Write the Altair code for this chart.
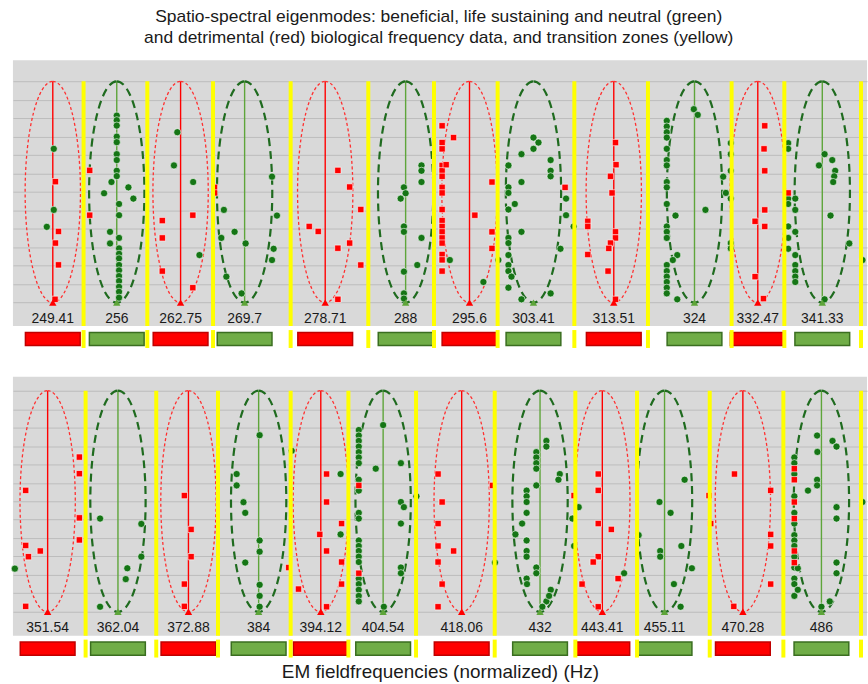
import altair as alt
import pandas as pd

FONT = "Liberation Sans"
LEVEL_MAX = 12

# ---------------- panel 1 ----------------
p1_modes = [249.41, 256, 262.75, 269.7, 278.71, 288, 295.6, 303.41, 313.51, 324, 332.47, 341.33]
p1_labels = ["249.41", "256", "262.75", "269.7", "278.71", "288", "295.6", "303.41", "313.51", "324", "332.47", "341.33"]
p1_kinds = ["red", "green"] * 6
p1_has_line = [True, True, True, True, True, True, True, False, True, True, True, True]
p1_zones = [252.56, 259.21, 266.25, 274.81, 283.65, 291.35, 299.01, 308.51, 317.91, 328.94, 336.09, 346.76]
p1_xdomain = [245.39, 347.61]
p1_ydomain = [-1.27, 13.14]

p1_green = [
    (249.51, 8.34), (249.51, 5.03), (248.80, 4.11),
    (256.00, 10.14), (256.00, 9.89), (256.00, 9.60), (256.00, 9.00), (256.00, 8.70), (256.00, 8.05), (256.00, 7.73), (256.00, 7.15), (256.00, 6.86),
    (256.24, 5.35), (256.24, 4.74), (256.24, 3.51), (256.24, 2.94), (256.24, 2.65), (256.24, 2.40), (256.24, 2.04), (256.24, 1.75), (256.24, 1.44),
    (256.24, 1.17), (256.24, 0.86), (256.24, 0.59), (256.24, 0.27),
    (255.45, 6.54), (254.68, 5.93), (257.22, 6.25), (257.74, 5.64), (255.30, 3.84), (255.30, 3.21),
    (262.40, 9.24), (262.04, 7.44), (264.10, 6.54), (264.78, 2.58),
    (267.43, 5.03), (268.60, 3.84), (267.15, 3.51), (269.81, 3.21), (267.70, 1.41), (269.37, 0.50), (272.73, 6.83), (273.28, 4.72),
    (272.91, 2.92), (272.73, 2.31),
    (289.87, 7.44), (289.87, 7.15), (289.87, 6.54), (289.87, 3.51), (287.80, 6.25), (287.80, 4.13), (287.80, 3.84), (287.80, 1.68),
    (287.80, 0.50), (287.80, 0.22), (288.00, 5.93), (287.42, 5.64), (289.37, 2.04),
    (297.28, 1.12), (293.24, 2.31),
    (303.41, 8.95), (303.41, 8.34), (304.03, 8.68), (301.93, 8.05), (301.93, 6.54), (301.93, 3.84), (301.93, 0.18),
    (300.33, 7.44), (300.33, 6.25), (300.33, 5.95), (300.33, 5.05), (300.33, 3.51), (300.33, 3.23), (300.33, 2.58), (300.33, 2.04),
    (300.33, 1.71), (300.33, 0.81), (300.70, 1.41),
    (305.54, 7.73), (305.54, 7.15), (305.54, 6.85), (305.54, 0.50), (301.11, 5.35), (306.77, 2.92), (307.47, 5.64), (307.47, 4.74),
    (308.42, 4.13), (299.10, 2.31),
    (323.91, 10.49), (324.43, 10.18),
    (320.36, 9.86), (320.36, 9.55), (320.36, 9.24), (320.36, 8.95), (320.36, 8.34), (320.36, 7.73), (320.36, 7.44), (320.36, 6.54),
    (320.36, 6.25), (320.36, 5.35), (320.36, 4.13), (320.36, 3.84), (320.36, 3.51), (320.36, 2.04), (320.36, 1.71), (320.36, 1.41),
    (320.36, 1.12), (320.36, 0.81), (320.36, 0.50),
    (321.50, 4.72), (325.45, 5.03), (321.73, 2.58), (321.73, 0.18), (321.15, 2.31),
    (328.83, 8.65), (328.83, 8.05), (328.83, 7.15), (328.83, 5.64), (328.83, 3.23), (328.83, 2.94), (327.81, 6.83), (328.17, 5.95),
    (336.62, 8.65), (336.62, 8.34), (336.62, 5.64), (336.62, 5.35), (336.62, 4.13), (336.62, 3.51), (336.62, 2.92),
    (337.59, 5.64), (337.59, 5.03), (337.59, 3.84), (337.59, 2.58), (337.59, 2.04), (337.59, 1.71), (337.59, 1.41), (337.59, 1.12),
    (341.65, 8.05), (341.65, 0.18), (340.87, 7.44), (342.72, 7.73), (343.13, 7.15), (342.99, 6.85), (342.85, 6.54), (342.48, 4.72),
    (345.11, 3.21), (346.97, 2.31),
]
p1_red = [
    (249.68, 6.56), (249.99, 3.86), (249.68, 3.23), (249.99, 2.05), (249.64, 0.18),
    (253.19, 7.17), (253.19, 4.74),
    (264.06, 4.74), (260.80, 4.45), (260.80, 3.51), (260.80, 1.71), (264.06, 0.81),
    (266.41, 6.25), (266.41, 5.95),
    (280.15, 7.17), (280.15, 2.95), (280.15, 0.18), (281.50, 6.27), (281.50, 3.23), (282.78, 5.05), (282.78, 2.04), (276.90, 4.13), (277.92, 3.86),
    (292.32, 9.59), (292.32, 8.68), (292.32, 8.34), (292.32, 7.44), (292.32, 7.15), (292.32, 6.85), (292.32, 6.25), (292.32, 5.95),
    (292.32, 5.05), (292.32, 4.45), (292.32, 4.13), (292.32, 3.84), (292.32, 3.51), (292.32, 3.23), (292.32, 2.61), (292.32, 2.32),
    (292.32, 1.71), (292.80, 7.48), (293.68, 8.95), (298.32, 6.54), (298.32, 3.84), (298.32, 2.94), (296.24, 4.74),
    (307.35, 6.25),
    (313.73, 8.68), (313.73, 3.84), (313.73, 3.51), (313.73, 0.18), (313.80, 7.48), (313.09, 6.85), (313.09, 3.23), (313.29, 5.95),
    (312.87, 2.94), (312.78, 1.71), (310.20, 4.41), (310.20, 4.13), (310.20, 2.61),
    (333.41, 9.59), (333.41, 7.15), (333.41, 5.03), (333.41, 4.13), (333.32, 8.34), (332.11, 4.41), (332.11, 1.41), (333.24, 0.22),
    (336.62, 5.95),
]

# ---------------- panel 2 ----------------
p2_modes = [351.54, 362.04, 372.88, 384, 394.12, 404.54, 418.06, 432, 443.41, 455.11, 470.28, 486]
p2_labels = ["351.54", "362.04", "372.88", "384", "394.12", "404.54", "418.06", "432", "443.41", "455.11", "470.28", "486"]
p2_kinds = ["red", "green"] * 6
p2_has_line = [True] * 12
p2_zones = [357.17, 367.89, 377.52, 389.18, 398.70, 410.15, 423.88, 438.43, 449.90, 463.80, 478.32, 494.12]
p2_xdomain = [346.47, 495.36]
p2_ydomain = [-1.30, 12.76]

p2_green = [
    (346.75, 2.34),
    (359.34, 5.06), (359.34, 0.27), (365.60, 4.77), (365.60, 2.99), (363.46, 2.36), (363.22, 1.77),
    (384.16, 9.59), (384.16, 3.87), (384.16, 3.26), (384.16, 1.46), (384.16, 0.86), (384.16, 0.27), (380.48, 7.48), (380.48, 6.86),
    (381.57, 5.95), (381.85, 5.37), (381.85, 2.67), (389.35, 8.74),
    (397.40, 7.48), (397.40, 4.20),
    (400.44, 9.87), (400.44, 9.57), (400.44, 9.28), (400.44, 8.97), (400.44, 8.67), (400.44, 8.38), (400.44, 8.07), (400.44, 7.17),
    (400.44, 6.58), (400.44, 5.37), (400.44, 5.06), (400.44, 3.87), (400.44, 3.57), (400.44, 3.30), (400.44, 2.99), (400.44, 2.70),
    (400.44, 1.80), (400.44, 1.50), (400.44, 1.19), (400.44, 0.86), (400.44, 0.56),
    (404.54, 10.14), (403.29, 7.77), (407.56, 8.07), (407.56, 5.96), (407.56, 4.79), (407.56, 2.40), (407.56, 2.09), (408.07, 5.68),
    (410.22, 6.27), (404.66, 0.27),
    (423.93, 2.67),
    (433.15, 9.28), (433.15, 8.97), (433.15, 0.56), (431.33, 8.67), (431.33, 8.38), (431.33, 8.07), (431.33, 7.77), (431.33, 6.86),
    (431.33, 2.40), (431.33, 2.09),
    (429.58, 6.58), (429.58, 6.27), (429.58, 5.96), (429.58, 5.37), (429.58, 3.87), (429.58, 3.30), (429.58, 2.99), (429.58, 1.80),
    (429.65, 1.50), (428.77, 4.79), (427.57, 4.20),
    (433.95, 1.19), (433.64, 0.86), (432.42, 0.27), (435.59, 7.48), (435.34, 7.17), (437.89, 5.06), (438.20, 3.57),
    (447.47, 2.09), (439.05, 5.68),
    (458.95, 7.17), (454.15, 5.96), (456.26, 5.37), (450.20, 4.16), (458.32, 3.57), (454.28, 3.30), (454.28, 2.99), (460.35, 2.36),
    (456.90, 1.50), (458.18, 0.27),
    (480.52, 8.38), (480.52, 8.07), (480.52, 7.48), (480.52, 6.27), (480.52, 5.37), (480.52, 4.79), (480.52, 4.16), (480.52, 3.87),
    (480.52, 3.57), (480.52, 2.99), (480.52, 2.40), (480.52, 1.80), (480.52, 1.50), (480.52, 0.86),
    (481.22, 2.36), (481.22, 1.19), (485.12, 9.57), (485.12, 7.17), (485.12, 6.86), (485.18, 8.68), (488.26, 9.28), (489.08, 8.97),
    (489.08, 5.68), (489.08, 5.06), (489.08, 2.67), (489.08, 2.09), (483.27, 6.58), (487.70, 0.56), (486.00, 0.27), (494.41, 5.96),
]
p2_red = [
    (348.32, 6.59), (348.32, 3.60), (348.32, 0.29), (348.72, 2.99), (350.46, 3.30), (356.24, 8.40), (356.24, 7.50), (356.24, 5.10), (356.24, 3.90),
    (372.25, 6.31), (372.25, 1.50), (372.25, 0.29), (373.30, 4.47), (373.30, 2.99),
    (388.86, 2.40),
    (395.07, 7.48), (395.07, 5.96), (395.07, 3.30), (395.07, 0.27), (393.95, 4.20), (397.56, 4.79), (397.56, 2.70), (397.56, 1.50), (390.46, 1.23),
    (400.44, 6.86), (400.44, 2.09),
    (413.95, 7.48), (413.95, 4.79), (413.95, 3.57), (413.95, 2.70), (413.95, 0.27), (414.66, 5.96), (414.66, 1.50), (416.65, 3.30), (423.48, 6.86),
    (438.20, 6.31),
    (442.66, 7.48), (442.66, 6.59), (442.66, 4.79), (442.66, 2.99), (442.66, 0.27), (445.09, 4.47), (441.73, 2.70), (446.35, 1.80), (439.67, 1.50),
    (468.63, 7.48), (475.78, 6.59), (475.78, 4.20), (475.78, 3.57), (475.78, 1.50), (463.67, 6.31), (463.99, 4.79), (468.49, 0.29),
    (480.52, 7.77), (480.52, 7.17), (480.52, 5.96), (480.52, 5.06), (480.52, 3.30), (480.52, 2.67),
]

TITLE = ["Spatio-spectral eigenmodes: beneficial, life sustaining and neutral (green)",
         "and detrimental (red) biological frequency data, and transition zones (yellow)"]
X_TITLE = "EM fieldfrequencies (normalized) (Hz)"

# ---------------- styling ----------------
BG = "#d9d9d9"
GRID = "#bcbcbc"
YELLOW = "#ffff00"
ELLIPSE = ("M0,-1C0.138,-1,0.25,-0.552,0.25,0C0.25,0.552,0.138,1,0,1"
           "C-0.138,1,-0.25,0.552,-0.25,0C-0.25,-0.552,-0.138,-1,0,-1Z")
BAR = "M-1,-0.24L1,-0.24L1,0.24L-1,0.24Z"
WIDTH = 858


def panel(modes, labels, kinds, has_line, zones, green, red, xdomain, ydomain, main_h, bottom):
    xs = alt.Scale(type="log", domain=xdomain, nice=False, zero=False)
    ys = alt.Scale(domain=ydomain, nice=False, zero=False)
    yaxis = alt.Axis(values=list(range(LEVEL_MAX + 1)), labels=False, ticks=False, domain=False,
                     grid=True, gridColor=GRID, gridWidth=1, title=None)

    def X():
        return alt.X("freq:Q", scale=xs, axis=None)

    def Y(f):
        return alt.Y(f + ":Q", scale=ys, axis=yaxis)

    mdf = pd.DataFrame({"freq": modes, "label": labels, "kind": kinds, "line": has_line})
    mdf["base"] = 0
    mdf["top"] = LEVEL_MAX
    mdf["mid"] = LEVEL_MAX / 2
    zdf = pd.DataFrame({"freq": zones})
    zdf["top"] = LEVEL_MAX
    zdf["bottom"] = ydomain[0]
    gdf = pd.DataFrame(green, columns=["freq", "level"])
    rdf = pd.DataFrame(red, columns=["freq", "level"])

    kind_line = alt.Scale(domain=["red", "green"], range=["#ff0000", "#5ea53a"])
    kind_tri = alt.Scale(domain=["red", "green"], range=["#d40000", "#2f6b22"])

    lines = alt.Chart(mdf[mdf["line"]]).mark_rule(strokeWidth=1.4).encode(
        x=X(), y=Y("base"), y2="top",
        color=alt.Color("kind:N", scale=kind_line, legend=None))
    ell_r = alt.Chart(mdf[mdf["kind"] == "red"]).mark_point(
        shape=ELLIPSE, size=49400, filled=False, opacity=1, stroke="#ff3030",
        strokeWidth=1.3, strokeDash=[3, 2.5]).encode(x=X(), y=Y("mid"))
    ell_g = alt.Chart(mdf[mdf["kind"] == "green"]).mark_point(
        shape=ELLIPSE, size=49400, filled=False, opacity=1, stroke="#1f6b1f",
        strokeWidth=2.2, strokeDash=[8, 5]).encode(x=X(), y=Y("mid"))
    pts_g = alt.Chart(gdf).mark_point(shape="circle", size=52, filled=True, opacity=1,
                                      fill="#157515", stroke="#ffffff", strokeWidth=0.6).encode(
        x=X(), y=Y("level"))
    pts_r = alt.Chart(rdf).mark_point(shape="square", size=40, filled=True, opacity=1,
                                      fill="#ff0000", stroke="#ffffff", strokeWidth=0.6).encode(
        x=X(), y=Y("level"))
    yel = alt.Chart(zdf).mark_rule(color=YELLOW, strokeWidth=4).encode(x=X(), y=Y("top"), y2="bottom")
    tri = alt.Chart(mdf).mark_point(shape="triangle-up", size=55, filled=True, opacity=1).encode(
        x=X(), y=Y("base"), color=alt.Color("kind:N", scale=kind_tri, legend=None))
    txt = alt.Chart(mdf).mark_text(font=FONT, fontSize=14, color="#1a1a1a", baseline="middle", dy=16).encode(
        x=X(), y=Y("base"), text="label:N")

    main = alt.layer(lines, ell_r, ell_g, pts_g, pts_r, yel, tri, txt).properties(
        width=WIDTH, height=main_h, view=alt.ViewBackground(fill=BG, strokeWidth=0))

    if bottom:
        xaxis = alt.Axis(labels=False, ticks=False, domain=False, grid=False, title=X_TITLE,
                         titleFont=FONT, titleFontSize=19, titleFontWeight="normal",
                         titleColor="#1a1a1a", titlePadding=5)
    else:
        xaxis = None

    def XS():
        if xaxis is None:
            return alt.X("freq:Q", scale=xs, axis=None)
        return alt.X("freq:Q", scale=xs, axis=xaxis)

    bars = alt.Chart(mdf).mark_point(shape=BAR, size=3025, filled=True, opacity=1, strokeWidth=1.5).encode(
        x=XS(),
        fill=alt.Fill("kind:N", scale=alt.Scale(domain=["red", "green"], range=["#ff0000", "#70ad47"]), legend=None),
        stroke=alt.Stroke("kind:N", scale=alt.Scale(domain=["red", "green"], range=["#c00000", "#3a6e20"]), legend=None))
    yel2 = alt.Chart(zdf).mark_rule(color=YELLOW, strokeWidth=4).encode(x=XS())
    strip = alt.layer(bars, yel2).properties(width=WIDTH, height=18)
    return alt.vconcat(main, strip, spacing=0)


top = panel(p1_modes, p1_labels, p1_kinds, p1_has_line, p1_zones, p1_green, p1_red,
            p1_xdomain, p1_ydomain, 267, False)
bot = panel(p2_modes, p2_labels, p2_kinds, p2_has_line, p2_zones, p2_green, p2_red,
            p2_xdomain, p2_ydomain, 260, True)

chart = alt.vconcat(top, bot, spacing=27).properties(
    title=alt.TitleParams(text=TITLE, font=FONT, fontSize=17.5, fontWeight="normal", color="#1a1a1a",
                          anchor="middle", lineHeight=20.5, offset=14),
    padding={"left": 10, "top": 7, "right": 0, "bottom": 0},
).configure_view(strokeWidth=0)

chart.save("out.html", embed_options={"renderer": "svg", "actions": False})
